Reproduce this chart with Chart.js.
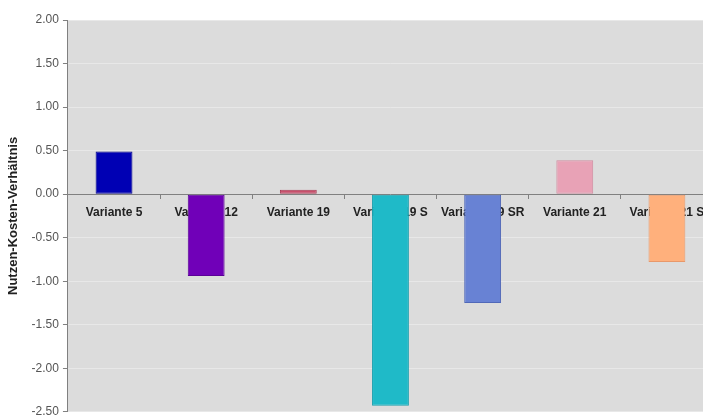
<!DOCTYPE html>
<html>
<head>
<meta charset="utf-8">
<script src="https://cdn.jsdelivr.net/npm/chart.js@4/dist/chart.umd.min.js"></script>
<style>
  html, body { margin: 0; padding: 0; background: #fff; overflow: hidden; }
  #wrap { width: 720px; height: 423px; }
</style>
</head>
<body>
<div id="wrap"><canvas id="chart"></canvas></div>
<script>
// Daten
const categories = ['Variante 5', 'Variante 12', 'Variante 19', 'Variante 19 S', 'Variante 19 SR', 'Variante 21', 'Variante 21 S'];
const ratios = [0.49, -0.94, 0.05, -2.43, -1.25, 0.39, -0.78];
const barColors = ['#0000b4', '#7000b8', '#c8506c', '#1fbac8', '#6882d4', '#e8a2b6', '#ffb07c'];
const barBorders = ['#00008a', '#5a0096', '#a83c56', '#18a0ae', '#5068b8', '#d08ca0', '#e8986a'];
const yTicks = [2, 1.5, 1, 0.5, 0, -0.5, -1, -1.5, -2, -2.5];

const FONT = 'Liberation Sans, Arial, sans-serif';

// grauer Hintergrund der Zeichenfläche
const plotBg = {
  id: 'plotBg',
  beforeDraw(chart) {
    const { ctx, chartArea: a } = chart;
    ctx.save();
    ctx.fillStyle = '#dcdcdc';
    ctx.fillRect(a.left, a.top, a.right - a.left, a.bottom - a.top);
    ctx.restore();
  }
};

new Chart(document.getElementById('chart'), {
  type: 'bar',
  data: {
    labels: categories,
    datasets: [{
      data: ratios,
      backgroundColor: barColors,
      borderColor: barBorders,
      borderWidth: 1,
      borderSkipped: false,
      categoryPercentage: 1,
      barPercentage: 0.4
    }]
  },
  options: {
    responsive: true,
    maintainAspectRatio: false,
    animation: false,
    layout: { padding: { top: 20, right: 7, bottom: 1, left: 6 } },
    plugins: {
      legend: { display: false },
      tooltip: { enabled: false }
    },
    scales: {
      x: {
        position: { y: 0 },
        offset: true,
        grid: {
          offset: true,
          drawOnChartArea: false,
          drawTicks: true,
          tickLength: 4,
          color: '#808080'
        },
        border: { color: '#808080', width: 1 },
        ticks: {
          color: '#222',
          padding: 7,
          maxRotation: 0,
          autoSkip: false,
          font: { family: FONT, size: 12, weight: 'bold' }
        }
      },
      y: {
        min: -2.5,
        max: 2,
        afterBuildTicks(scale) {
          scale.ticks = yTicks.map(v => ({ value: v }));
        },
        grid: {
          color: '#e8e8e8',
          drawTicks: true,
          tickLength: 5,
          tickColor: '#808080'
        },
        border: { color: '#808080', width: 1 },
        ticks: {
          color: '#555',
          padding: 4,
          font: { family: FONT, size: 12 },
          callback: v => Number(v).toFixed(2)
        },
        title: {
          display: true,
          text: 'Nutzen-Kosten-Verhältnis',
          color: '#222',
          padding: { top: 0, bottom: 6 },
          font: { family: FONT, size: 13, weight: 'bold' }
        }
      }
    }
  },
  plugins: [plotBg]
});
</script>
</body>
</html>
